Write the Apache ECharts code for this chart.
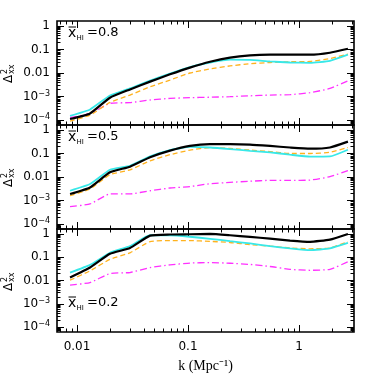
<!DOCTYPE html>
<html>
<head>
<meta charset="utf-8">
<script src="https://cdn.jsdelivr.net/npm/echarts@6/dist/echarts.min.js"></script>
<style>html,body{margin:0;padding:0;background:#fff}#c{width:374px;height:374px}</style>
</head>
<body>
<div id="c"></div>
<script>
// ---- data ----
const kValues = [0.00865,0.0131,0.0198,0.0300,0.0455,0.0688,0.104,0.158,0.239,0.362,0.548,0.830,1.257,1.90,2.76];
const panelXHI = ['0.8','0.5','0.2'];
// x_HI = 0.8
const black08   = [1.1e-4,1.9e-4,8.9e-4,2.0e-3,4.3e-3,8.8e-3,0.017,0.030,0.045,0.056,0.060,0.060,0.060,0.073,0.108];
const cyan08    = [1.5e-4,2.8e-4,1.1e-3,2.2e-3,4.8e-3,9.5e-3,0.018,0.028,0.037,0.036,0.031,0.028,0.027,0.033,0.060];
const orange08  = [9e-5,1.6e-4,5.6e-4,1.15e-3,2.6e-3,5.0e-3,0.010,0.0148,0.020,0.025,0.028,0.030,0.031,0.041,0.064];
const magenta08 = [1.25e-4,1.9e-4,5.1e-4,5.5e-4,7.1e-4,8.3e-4,8.9e-4,9.3e-4,9.8e-4,1.07e-3,1.15e-3,1.2e-3,1.45e-3,2.2e-3,4.6e-3];
// x_HI = 0.5
const black05   = [1.9e-3,3.6e-3,0.0158,0.0275,0.069,0.132,0.21,0.25,0.25,0.24,0.21,0.18,0.16,0.18,0.32];
const cyan05    = [2.6e-3,5.0e-3,0.0204,0.030,0.075,0.14,0.19,0.18,0.155,0.13,0.112,0.089,0.073,0.075,0.145];
const orange05  = [1.6e-3,3.1e-3,0.0126,0.020,0.049,0.089,0.14,0.18,0.165,0.14,0.12,0.10,0.10,0.112,0.18];
const magenta05 = [5.5e-4,7.1e-4,1.9e-3,1.9e-3,2.6e-3,3.4e-3,3.9e-3,5.2e-3,5.9e-3,6.6e-3,7.2e-3,7.2e-3,7.4e-3,0.0103,0.0186];
// x_HI = 0.2
const black02   = [0.0135,0.036,0.14,0.25,0.85,0.95,0.97,1.0,0.88,0.75,0.63,0.52,0.46,0.57,1.0];
const cyan02    = [0.022,0.047,0.155,0.30,0.88,0.88,0.76,0.62,0.49,0.39,0.30,0.24,0.20,0.24,0.41];
const orange02  = [0.0103,0.026,0.081,0.155,0.47,0.52,0.52,0.48,0.43,0.35,0.30,0.25,0.23,0.25,0.46];
const magenta02 = [6.3e-3,8.2e-3,0.020,0.022,0.036,0.047,0.056,0.059,0.055,0.049,0.040,0.030,0.0275,0.030,0.064];

const xMajorTicks = [0.01, 0.1, 1];
const xMajorLabels = ['0.01', '0.1', '1'];
const xMinorTicks = [0.007,0.008,0.009,0.02,0.03,0.04,0.05,0.06,0.07,0.08,0.09,0.2,0.3,0.4,0.5,0.6,0.7,0.8,0.9,2,3];
const yMajorTicks = [1e-4, 1e-3, 0.01, 0.1, 1];
const yMajorLabels = ['10{s|−4}', '10{s|−3}', '0.01', '0.1', '1'];
const yMinorTicks = [];
[-5,-4,-3,-2,-1,0].forEach(function(d){ for (let m = 2; m <= 9; m++) yMinorTicks.push(m * Math.pow(10, d)); });

// ---- layout ----
const X_MIN = 0.0066, X_MAX = 3.13;
const Y_MIN = Math.pow(10, -4.213), Y_MAX = Math.pow(10, 0.213);
const gridTops = [21, 125, 229];
const GRID_H = 104, GRID_L = 57, GRID_R = 20;

function labelFor(v, ticks, labels) {
  for (let i = 0; i < ticks.length; i++) {
    if (Math.abs(Math.log10(v) - Math.log10(ticks[i])) < 0.01) return labels[i];
  }
  return '';
}

const grids = [], xAxes = [], yAxes = [], series = [];
const tickLine = {color: '#000', width: 1};
const lblFont = 'DejaVu Sans';

gridTops.forEach(function(top, gi) {
  grids.push({left: GRID_L, right: GRID_R, top: top, height: GRID_H, show: true,
    borderColor: '#000', borderWidth: 1.6, backgroundColor: 'transparent'});
  const mainX = xAxes.length;
  ['bottom', 'top'].forEach(function(pos) {
    xAxes.push({type: 'log', logBase: 10, gridIndex: gi, position: pos, min: X_MIN, max: X_MAX,
      axisLine: {show: false}, splitLine: {show: false},
      axisTick: {show: true, inside: true, length: 7, customValues: xMajorTicks, lineStyle: tickLine},
      axisLabel: {show: pos === 'bottom' && gi === 2, customValues: xMajorTicks, margin: 9,
        fontFamily: lblFont, fontSize: 12, color: '#000',
        formatter: function(v){ return labelFor(v, xMajorTicks, xMajorLabels); }},
      name: (pos === 'bottom' && gi === 2) ? 'k (Mpc⁻¹)' : '', nameLocation: 'middle', nameGap: 27,
      nameTextStyle: {fontFamily: 'Liberation Serif', fontSize: 14, color: '#000'}
    });
    xAxes.push({type: 'log', logBase: 10, gridIndex: gi, position: pos, min: X_MIN, max: X_MAX,
      axisLine: {show: false}, splitLine: {show: false},
      axisTick: {show: true, inside: true, length: 3.5, customValues: xMinorTicks, lineStyle: tickLine},
      axisLabel: {show: false}
    });
  });
  const mainY = yAxes.length;
  ['left', 'right'].forEach(function(pos) {
    yAxes.push({type: 'log', logBase: 10, gridIndex: gi, position: pos, min: Y_MIN, max: Y_MAX,
      axisLine: {show: false}, splitLine: {show: false},
      axisTick: {show: true, inside: true, length: 7, customValues: yMajorTicks, lineStyle: tickLine},
      axisLabel: {show: pos === 'left', customValues: yMajorTicks, margin: 7,
        fontFamily: lblFont, fontSize: 12, color: '#000',
        formatter: function(v){ return labelFor(v, yMajorTicks, yMajorLabels); },
        rich: {s: {fontSize: 8, fontFamily: lblFont, verticalAlign: 'top', padding: [0,0,6,0]}}}
    });
    yAxes.push({type: 'log', logBase: 10, gridIndex: gi, position: pos, min: Y_MIN, max: Y_MAX,
      axisLine: {show: false}, splitLine: {show: false},
      axisTick: {show: true, inside: true, length: 3.5, customValues: yMinorTicks, lineStyle: tickLine},
      axisLabel: {show: false}
    });
  });
  const sets = [
    [magenta08, orange08, cyan08, black08],
    [magenta05, orange05, cyan05, black05],
    [magenta02, orange02, cyan02, black02]
  ][gi];
  const styles = [
    {color: '#ff30ff', width: 1.3, type: [7, 3, 1.5, 3]},
    {color: '#ffb21e', width: 1.3, type: [5, 3]},
    {color: '#38e8e8', width: 1.8, type: 'solid'},
    {color: '#000000', width: 2.2, type: 'solid'}
  ];
  sets.forEach(function(vals, si) {
    series.push({type: 'line', xAxisIndex: mainX, yAxisIndex: mainY, symbol: 'none', smooth: 0.15,
      silent: true, animation: false, z: 2 + si,
      lineStyle: styles[si],
      data: kValues.map(function(k, j){ return [k, vals[j]]; })});
  });
});

// panel labels and y-axis names (text)
const graphics = [];
const labelY = [33, 137, 303];
gridTops.forEach(function(top, gi) {
  const ly = labelY[gi];
  graphics.push({type: 'group', x: 68, y: ly, children: [
    {type: 'text', x: 0, y: 0, style: {text: 'x', font: '14px "DejaVu Sans"', fill: '#000', textVerticalAlign: 'middle'}},
    {type: 'line', shape: {x1: 0.5, y1: -6, x2: 8, y2: -6}, style: {stroke: '#000', lineWidth: 1}},
    {type: 'text', x: 8.5, y: 5, style: {text: 'HI', font: '7px "DejaVu Sans"', fill: '#000', textVerticalAlign: 'middle'}},
    {type: 'text', x: 19, y: 0, style: {text: '=' + panelXHI[gi], font: '13px "DejaVu Sans"', fill: '#000', textVerticalAlign: 'middle'}}
  ]});
  const cy = top + 52;
  graphics.push({type: 'group', x: 15, y: cy + 10, rotation: Math.PI / 2, children: [
    {type: 'text', x: 0, y: 0, style: {text: 'Δ', font: '12px "DejaVu Sans"', fill: '#000', textVerticalAlign: 'bottom'}},
    {type: 'text', x: 9, y: -6, style: {text: '2', font: '8px "DejaVu Sans"', fill: '#000', textVerticalAlign: 'bottom'}},
    {type: 'text', x: 9, y: 1, style: {text: 'xx', font: '8px "DejaVu Sans"', fill: '#000', textVerticalAlign: 'bottom'}}
  ]});
});

const chart = echarts.init(document.getElementById('c'), null, {renderer: 'canvas'});
chart.setOption({
  animation: false,
  backgroundColor: '#fff',
  grid: grids, xAxis: xAxes, yAxis: yAxes, series: series,
  graphic: graphics
});
</script>
</body>
</html>
